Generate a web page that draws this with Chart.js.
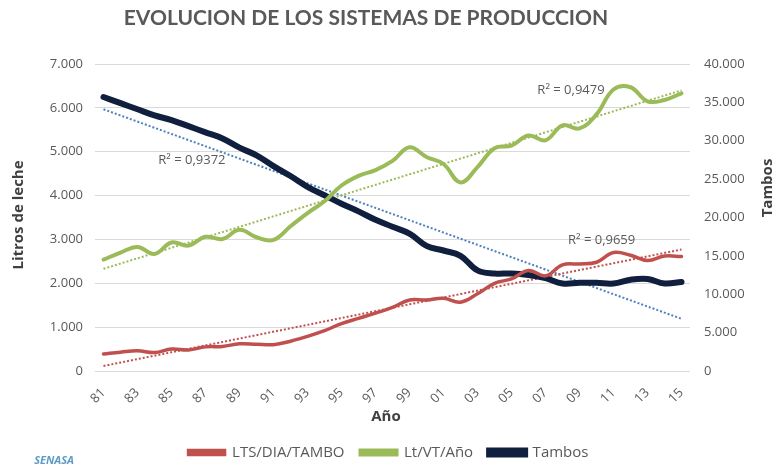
<!DOCTYPE html>
<html lang="es">
<head>
<meta charset="UTF-8">
<title>Evolucion de los sistemas de produccion</title>
<script src="https://cdn.jsdelivr.net/npm/chart.js"></script>
<style>
  html, body { margin: 0; padding: 0; background: #fff; }
  #wrap { width: 777px; height: 470px; position: relative; }
</style>
</head>
<body>
<div id="wrap"><canvas id="chart"></canvas></div>
<script>
// datos
const years = ['81','82','83','84','85','86','87','88','89','90','91','92','93','94','95','96','97','98','99',
               '00','01','02','03','04','05','06','07','08','09','10','11','12','13','14','15'];

const ltsDiaTambo = [390, 430, 460, 420, 500, 480, 550, 560, 620, 610, 600, 680, 790, 920, 1080, 1200, 1320, 1450, 1620,
                     1620, 1660, 1570, 1760, 2000, 2100, 2290, 2170, 2420, 2440, 2480, 2700, 2640, 2520, 2620, 2610];

const ltVtAno = [2540, 2700, 2830, 2670, 2930, 2860, 3060, 3010, 3220, 3050, 2990, 3300, 3600, 3870, 4230, 4450, 4580, 4790, 5100,
                 4880, 4720, 4300, 4650, 5080, 5140, 5370, 5260, 5600, 5530, 5850, 6420, 6470, 6150, 6180, 6330];

const tambos = [35700, 34900, 34100, 33300, 32700, 31900, 31100, 30300, 29100, 28100, 26700, 25400, 24000, 22900, 21800, 20800, 19700, 18800, 17900,
                16300, 15700, 15000, 13100, 12700, 12700, 12500, 12100, 11400, 11500, 11500, 11400, 11900, 12000, 11400, 11600];

// lineas de tendencia: valor en el primer y ultimo año
const trendLts = [115, 2770];
const trendLtVt = [2330, 6400];
const trendTambos = [34100, 6800];

// etiquetas R² : [texto, indice de año, valor, eje]
const r2Labels = [
  ['R\u00B2 = 0,9372', 5.2, 4800, 'y'],
  ['R\u00B2 = 0,9479', 27.5, 6400, 'y'],
  ['R\u00B2 = 0,9659', 29.3, 2970, 'y']
];

const GREY = '#595959';
const RED = '#c0504d', GREEN = '#9bbb59', NAVY = '#0f1f3d', BLUE = '#4f81bd';

function endsOnly(pair) {
  const arr = years.map(() => null);
  arr[0] = pair[0];
  arr[arr.length - 1] = pair[1];
  return arr;
}

function fmt(v) {
  return Number(v).toLocaleString('de-DE');
}

const extraText = {
  id: 'extraText',
  afterDraw(chart) {
    const ctx = chart.ctx;
    const xs = chart.scales.x;
    ctx.save();
    ctx.textAlign = 'center';
    ctx.textBaseline = 'middle';

    ctx.fillStyle = GREY;
    ctx.font = 'bold 21px Lato';
    ctx.fillText('EVOLUCION DE LOS SISTEMAS DE PRODUCCION', 366, 18);

    ctx.font = '13px "Open Sans"';
    r2Labels.forEach(([txt, idx, val, axis]) => {
      ctx.fillText(txt, xs.getPixelForValue(idx), chart.scales[axis].getPixelForValue(val));
    });

    ctx.fillStyle = '#404040';
    ctx.font = 'bold 15px "Open Sans"';
    ctx.fillText('A\u00F1o', 386, 417);

    ctx.save();
    ctx.translate(19, 215);
    ctx.rotate(-Math.PI / 2);
    ctx.fillText('Litros de leche', 0, 0);
    ctx.restore();

    ctx.save();
    ctx.translate(768, 188);
    ctx.rotate(-Math.PI / 2);
    ctx.fillText('Tambos', 0, 0);
    ctx.restore();

    ctx.fillStyle = '#5b9bc6';
    ctx.font = 'italic bold 11px "Open Sans"';
    ctx.fillText('SENASA', 54, 461);
    ctx.restore();
  }
};

const lineBase = { tension: 0.4, pointRadius: 0, pointHoverRadius: 0, fill: false, borderCapStyle: 'round' };
const trendBase = { pointRadius: 0, fill: false, borderWidth: 2, borderDash: [2, 2], spanGaps: true, tension: 0 };

new Chart(document.getElementById('chart'), {
  type: 'line',
  data: {
    labels: years,
    datasets: [
      Object.assign({ label: 'LTS/DIA/TAMBO', data: ltsDiaTambo, borderColor: RED, backgroundColor: RED, borderWidth: 3.5, yAxisID: 'y' }, lineBase),
      Object.assign({ label: 'Lt/VT/A\u00F1o', data: ltVtAno, borderColor: GREEN, backgroundColor: GREEN, borderWidth: 4, yAxisID: 'y' }, lineBase),
      Object.assign({ label: 'Tambos', data: tambos, borderColor: NAVY, backgroundColor: NAVY, borderWidth: 6, yAxisID: 'y2' }, lineBase),
      Object.assign({ label: 'trend1', data: endsOnly(trendLts), borderColor: RED, yAxisID: 'y' }, trendBase),
      Object.assign({ label: 'trend2', data: endsOnly(trendLtVt), borderColor: GREEN, yAxisID: 'y' }, trendBase),
      Object.assign({ label: 'trend3', data: endsOnly(trendTambos), borderColor: BLUE, yAxisID: 'y2' }, trendBase)
    ]
  },
  options: {
    responsive: true,
    maintainAspectRatio: false,
    animation: false,
    layout: { padding: { top: 64, left: 0, right: 0, bottom: 0 } },
    plugins: {
      legend: {
        position: 'bottom',
        labels: {
          color: GREY,
          font: { family: '"Open Sans"', size: 15 },
          boxWidth: 36,
          boxHeight: 4,
          padding: 16,
          filter: item => !item.text.startsWith('trend')
        }
      },
      tooltip: { enabled: false }
    },
    scales: {
      x: {
        offset: true,
        grid: { display: false, drawTicks: false },
        border: { display: false },
        afterFit: s => { s.height = 58; },
        ticks: {
          autoSkip: false,
          maxRotation: 45,
          minRotation: 45,
          padding: 14,
          color: GREY,
          font: { family: '"Open Sans"', size: 13 },
          callback: (v, i) => (i % 2 === 0 ? years[i] : '')
        }
      },
      y: {
        position: 'left',
        min: 0,
        max: 7000,
        afterFit: s => { s.width = 95; },
        grid: { color: '#d9d9d9', drawTicks: false, lineWidth: 1 },
        border: { display: false },
        ticks: { stepSize: 1000, padding: 12, color: GREY, font: { family: '"Open Sans"', size: 13 }, callback: fmt }
      },
      y2: {
        position: 'right',
        min: 0,
        max: 40000,
        afterFit: s => { s.width = 87; },
        grid: { display: false, drawTicks: false },
        border: { display: false },
        ticks: { stepSize: 5000, padding: 14, color: GREY, font: { family: '"Open Sans"', size: 13 }, callback: fmt }
      }
    }
  },
  plugins: [extraText]
});
</script>
</body>
</html>
